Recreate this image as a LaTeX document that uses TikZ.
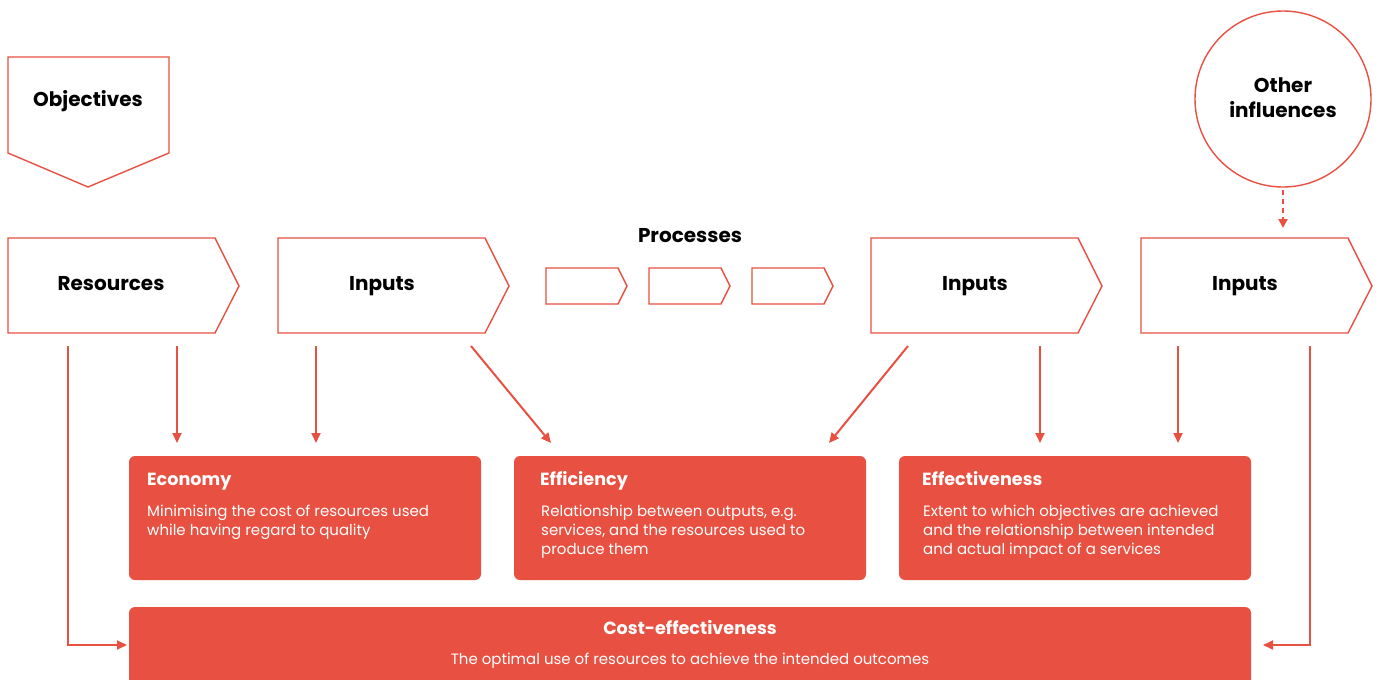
\documentclass[tikz,border=0pt]{standalone}
\usepackage{fontspec}
\setmainfont{Poppins}
\usetikzlibrary{arrows.meta,calc}
\definecolor{nred}{HTML}{E85142}
\tikzset{
  outl/.style={draw=nred, line width=1.4pt},
  lbl/.style={font=\fontsize{20}{25}\selectfont\bfseries, text=black, align=center, anchor=base, inner sep=0pt},
  arr/.style={draw=nred, line width=2pt, -{Triangle[length=10pt,width=9pt]}},
  card/.style={fill=nred, rounded corners=6pt},
  ttl/.style={font=\fontsize{17.6}{20}\selectfont\bfseries, text=white, anchor=base west, inner sep=0pt},
  bdy/.style={font=\fontsize{15}{19}\selectfont, text=white, anchor=base west, align=left, inner sep=0pt},
}
\begin{document}
\begin{tikzpicture}[x=1pt,y=-1pt]
\clip (0,0) rectangle (1379,680);
\fill[white] (0,0) rectangle (1379,680);
% Objectives
\draw[outl] (8,57) -- (169,57) -- (169,153) -- (88,187) -- (8,153) -- cycle;
\node[lbl] (obj) at (88,106) {Objectives};
% Other influences
\node[outl, circle, minimum size=176pt, inner sep=0pt] (oth) at (1283,99) {};
\node[lbl] (othl1) at (1283,92) {Other};
\node[lbl] (othl2) at (1283,117) {influences};
% chevrons
\newcommand{\chev}[2]{\draw[outl] (#1,238) -- (#1+207,238) -- (#1+231,286) -- (#1+207,333) -- (#1,333) -- cycle;
  \coordinate (#2) at (#1,238);}
\chev{8}{resc}
\chev{278}{in1c}
\chev{871}{in3c}
\chev{1141}{in4c}
\node[lbl] (res) at (111,290) {Resources};
\node[lbl] (in1) at (382,290) {Inputs};
\node[lbl] (in3) at (975,290) {Inputs};
\node[lbl] (in4) at (1245,290) {Inputs};
\node[lbl] (proc) at (690,242) {Processes};
\newcommand{\smallchev}[1]{\draw[outl] (#1,268) -- (#1+72,268) -- (#1+81,286) -- (#1+72,304) -- (#1,304) -- cycle;}
\smallchev{546}
\smallchev{649}
\smallchev{752}
% cards
\fill[card] (129,456) rectangle (481,580);
\coordinate (econ) at (129,456);
\node[ttl] (econt) at (147,485) {Economy};
\node[bdy] (econb1) at (147,516) {Minimising the cost of resources used};
\node[bdy] (econb2) at (147,535) {while having regard to quality};
\fill[card] (514,456) rectangle (866,580);
\coordinate (effi) at (514,456);
\node[ttl] (effit) at (540,485) {Efficiency};
\node[bdy] (effib1) at (541,516) {Relationship between outputs, e.g.};
\node[bdy] (effib2) at (541,535) {services, and the resources used to};
\node[bdy] (effib3) at (541,554) {produce them};
\fill[card] (899,456) rectangle (1251,580);
\coordinate (effe) at (899,456);
\node[ttl] (effet) at (922,485) {Effectiveness};
\node[bdy] (effeb1) at (923,516) {Extent to which objectives are achieved};
\node[bdy] (effeb2) at (923,535) {and the relationship between intended};
\node[bdy] (effeb3) at (923,554) {and actual impact of a services};
\fill[card] (129,607) rectangle (1251,700);
\node[ttl, anchor=base] (cet) at (690,634) {Cost-effectiveness};
\node[bdy, anchor=base] (ceb) at (690,664) {The optimal use of resources to achieve the intended outcomes};
% connectors
\coordinate (a1) at (68,346); \coordinate (a1e) at (127,645);
\draw[arr] (a1) |- (a1e);
\coordinate (a8) at (1310,346); \coordinate (a8e) at (1263,645);
\draw[arr] (a8) |- (a8e);
\coordinate (a2) at (177,346); \coordinate (a2e) at (177,443);
\draw[arr] (a2) -- (a2e);
\coordinate (a3) at (316,346); \coordinate (a3e) at (316,443);
\draw[arr] (a3) -- (a3e);
\coordinate (a4) at (471,346); \coordinate (a4e) at (551,443);
\draw[arr] (a4) -- (a4e);
\coordinate (a5) at (908,346); \coordinate (a5e) at (829,443);
\draw[arr] (a5) -- (a5e);
\coordinate (a6) at (1040,346); \coordinate (a6e) at (1040,443);
\draw[arr] (a6) -- (a6e);
\coordinate (a7) at (1178,346); \coordinate (a7e) at (1178,443);
\draw[arr] (a7) -- (a7e);
\coordinate (d1e) at (1283,228);
\draw[arr, dash pattern=on 5pt off 4pt, -{Triangle[length=9pt,width=9pt]}] (oth.south) ++(0,2) -- (d1e);
\end{tikzpicture}
\end{document}
